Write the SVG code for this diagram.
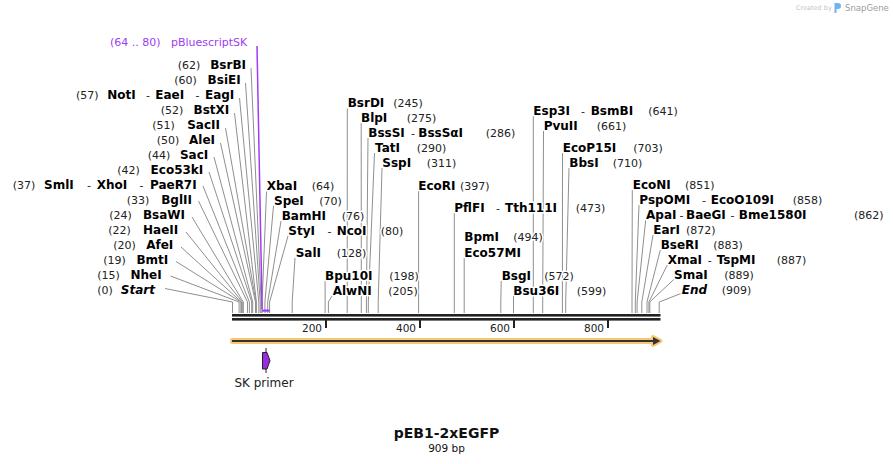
<svg xmlns="http://www.w3.org/2000/svg" width="893" height="464" viewBox="0 0 893 464">
<style>
text { font-family: "DejaVu Sans", Verdana, sans-serif; }
.lab { paint-order: stroke; stroke: #fff; stroke-width: 3px; stroke-linejoin: round; }
.b { font-weight: bold; font-size: 12px; fill: #000; }
.i { font-weight: bold; font-style: italic; font-size: 12px; fill: #000; }
.n { font-size: 11px; fill: #222; }
.ln { fill: none; stroke: #8f8f8f; stroke-width: 1; }
.ax { font-size: 10.5px; fill: #222; }
</style>
<rect width="893" height="464" fill="#fff"/>

<g id="logo">
  <text x="796" y="10" font-size="6.5" fill="#c4c4c4">Created by</text>
  <path d="M834.5,3 h3.5 a3,3 0 0 1 0,6 h-1.5 v4 h-2 z" fill="#6fb4ee"/>
  <text x="845" y="10.5" font-size="8.5" fill="#9c9c9c">SnapGene</text>
</g>

<g id="connectors">
  <!-- left labels -->
  <polyline class="ln" points="251,68 261.1,302 261.1,313"/>
  <polyline class="ln" points="245.5,83 260.2,302 260.2,313"/>
  <polyline class="ln" points="239.5,98 258.8,302 258.8,313"/>
  <polyline class="ln" points="234.5,113 256.4,302 256.4,313"/>
  <polyline class="ln" points="225.5,128 256,302 256,313"/>
  <polyline class="ln" points="220.5,143 255.5,302 255.5,313"/>
  <polyline class="ln" points="214,157 252.7,302 252.7,313"/>
  <polyline class="ln" points="209,172 251.7,302 251.7,313"/>
  <polyline class="ln" points="203,186 249.4,302 249.4,313"/>
  <polyline class="ln" points="198.5,201 247.5,302 247.5,313"/>
  <polyline class="ln" points="192,217 243.3,302 243.3,313"/>
  <polyline class="ln" points="186,232 242.3,302 242.3,313"/>
  <polyline class="ln" points="181,247 241.4,302 241.4,313"/>
  <polyline class="ln" points="176,261.5 240.9,302 240.9,313"/>
  <polyline class="ln" points="170.5,276 239.1,302 239.1,313"/>
  <polyline class="ln" points="165,288.5 232.5,302 232.5,313"/>
  <!-- right labels -->
  <polyline class="ln" points="266.5,191.5 262.1,302 262.1,313"/>
  <polyline class="ln" points="273.5,206 264.9,302 264.9,313"/>
  <polyline class="ln" points="281,221 267.7,302 267.7,313"/>
  <polyline class="ln" points="288,236 269.6,302 269.6,313"/>
  <polyline class="ln" points="295,258 292.2,302 292.2,313"/>
  <polyline class="ln" points="325.1,281 325.1,313"/>
  <polyline class="ln" points="332,296 328.4,302 328.4,313"/>
  <polyline class="ln" points="347.3,108.5 347.2,313"/>
  <polyline class="ln" points="361.2,123 361.3,313"/>
  <polyline class="ln" points="368,138 366.4,302 366.4,313"/>
  <polyline class="ln" points="374.5,153 368.3,302 368.3,313"/>
  <polyline class="ln" points="382,168 378.2,302 378.2,313"/>
  <polyline class="ln" points="418.6,191 418.6,313"/>
  <polyline class="ln" points="454.3,213 454.3,313"/>
  <polyline class="ln" points="464.2,258 464.2,313"/>
  <polyline class="ln" points="501.2,281 500.8,302 500.8,313"/>
  <polyline class="ln" points="513.5,296 513.5,313"/>
  <polyline class="ln" points="533.3,116 533.3,313"/>
  <polyline class="ln" points="543.5,131 542.7,302 542.7,313"/>
  <polyline class="ln" points="562.5,153 562.4,313"/>
  <polyline class="ln" points="569,168 565.7,302 565.7,313"/>
  <polyline class="ln" points="632.3,190 632,302 632,313"/>
  <polyline class="ln" points="639,205 635.3,302 635.3,313"/>
  <polyline class="ln" points="645.7,220 637.1,302 637.1,313"/>
  <polyline class="ln" points="653,235 641.8,302 641.8,313"/>
  <polyline class="ln" points="660.3,250 647,302 647,313"/>
  <polyline class="ln" points="667.3,265 648.9,302 648.9,313"/>
  <polyline class="ln" points="673.7,279.5 649.8,302 649.8,313"/>
  <polyline class="ln" points="681,293.5 659.2,302 659.2,313"/>
  <!-- primer binding -->
  <line x1="257" y1="46" x2="262.1" y2="309" stroke="#a03cf5" stroke-width="1.5"/>
  <rect x="262.1" y="309.5" width="7.5" height="2.2" fill="#a03cf5"/>
</g>

<g id="map">
  <rect x="232" y="314" width="428.5" height="2.6" fill="#222"/>
  <rect x="232" y="318" width="428.5" height="2.6" fill="#222"/>
  <rect x="325" y="319" width="2" height="9" fill="#222"/>
  <rect x="419" y="319" width="2" height="9" fill="#222"/>
  <rect x="513" y="319" width="2" height="9" fill="#222"/>
  <rect x="607" y="319" width="2" height="9" fill="#222"/>
  <text class="ax" x="322" y="331.5" text-anchor="end">200</text>
  <text class="ax" x="416" y="331.5" text-anchor="end">400</text>
  <text class="ax" x="510" y="331.5" text-anchor="end">600</text>
  <text class="ax" x="604" y="331.5" text-anchor="end">800</text>
</g>

<g id="feature">
  <polygon points="232,340 653,340 653,337 660.5,341 653,345 653,342 232,342" fill="#333" stroke="#fbc774" stroke-width="4" stroke-linejoin="round"/>
  <polygon points="232,340 653,340 653,337 660.5,341 653,345 653,342 232,342" fill="#333"/>
</g>

<g id="sk-primer">
  <line x1="266" y1="348" x2="266" y2="373" stroke="#222" stroke-width="1"/>
  <polygon points="262.5,352.5 267,352.5 270,360.7 267,369 262.5,369" fill="#9b2be0" stroke="#222" stroke-width="1"/>
  <text x="264" y="386.5" font-size="12" fill="#222" text-anchor="middle">SK primer</text>
</g>

<g id="pBluescriptSK">
  <text class="lab" x="110" y="46" font-size="11" fill="#a03cf5">(64 .. 80)</text>
  <text class="lab" x="171" y="46" font-size="11" fill="#a03cf5">pBluescriptSK</text>
</g>

<g id="left-labels">
  <g id="BsrBI"><text class="lab n" x="177.7" y="69.4">(62)</text><text class="lab b" x="246" y="69.4" text-anchor="end">BsrBI</text></g>
  <g id="BsiEI"><text class="lab n" x="174.3" y="84.4">(60)</text><text class="lab b" x="240.7" y="84.4" text-anchor="end">BsiEI</text></g>
  <g id="NotI"><text class="lab n" x="76" y="99.4">(57)</text><text class="lab b" x="107.3" y="99.4">NotI</text><text class="lab n" x="146" y="99.4">-</text><text class="lab b" x="155.3" y="99.4">EaeI</text><text class="lab n" x="195.5" y="99.4">-</text><text class="lab b" x="234.3" y="99.4" text-anchor="end">EagI</text></g>
  <g id="BstXI"><text class="lab n" x="160.7" y="114.4">(52)</text><text class="lab b" x="229.3" y="114.4" text-anchor="end">BstXI</text></g>
  <g id="SacII"><text class="lab n" x="152.3" y="129.4">(51)</text><text class="lab b" x="220" y="129.4" text-anchor="end">SacII</text></g>
  <g id="AleI"><text class="lab n" x="156.7" y="144.4">(50)</text><text class="lab b" x="215" y="144.4" text-anchor="end">AleI</text></g>
  <g id="SacI"><text class="lab n" x="147.7" y="159.4">(44)</text><text class="lab b" x="208.3" y="159.4" text-anchor="end">SacI</text></g>
  <g id="Eco53kI"><text class="lab n" x="117.3" y="174.4">(42)</text><text class="lab b" x="203.3" y="174.4" text-anchor="end">Eco53kI</text></g>
  <g id="SmlI"><text class="lab n" x="12.7" y="189.4">(37)</text><text class="lab b" x="44" y="189.4">SmlI</text><text class="lab n" x="87" y="189.4">-</text><text class="lab b" x="96.7" y="189.4">XhoI</text><text class="lab n" x="139.5" y="189.4">-</text><text class="lab b" x="196.7" y="189.4" text-anchor="end">PaeR7I</text></g>
  <g id="BglII"><text class="lab n" x="126.7" y="204.4">(33)</text><text class="lab b" x="192" y="204.4" text-anchor="end">BglII</text></g>
  <g id="BsaWI"><text class="lab n" x="109.3" y="219.4">(24)</text><text class="lab b" x="185" y="219.4" text-anchor="end">BsaWI</text></g>
  <g id="HaeII"><text class="lab n" x="108.3" y="234.4">(22)</text><text class="lab b" x="178.3" y="234.4" text-anchor="end">HaeII</text></g>
  <g id="AfeI"><text class="lab n" x="113.3" y="249.4">(20)</text><text class="lab b" x="173.3" y="249.4" text-anchor="end">AfeI</text></g>
  <g id="BmtI"><text class="lab n" x="103.3" y="264.4">(19)</text><text class="lab b" x="168.3" y="264.4" text-anchor="end">BmtI</text></g>
  <g id="NheI"><text class="lab n" x="97.3" y="279.4">(15)</text><text class="lab b" x="161.7" y="279.4" text-anchor="end">NheI</text></g>
  <g id="Start"><text class="lab n" x="97.3" y="294.4">(0)</text><text class="lab i" x="155" y="294.4" text-anchor="end">Start</text></g>
</g>

<g id="right-labels">
  <g id="XbaI"><text class="lab b" x="266.7" y="190">XbaI</text><text class="lab n" x="311.7" y="190">(64)</text></g>
  <g id="SpeI"><text class="lab b" x="274" y="204.5">SpeI</text><text class="lab n" x="319.3" y="204.5">(70)</text></g>
  <g id="BamHI"><text class="lab b" x="281.7" y="219.5">BamHI</text><text class="lab n" x="341.7" y="219.5">(76)</text></g>
  <g id="StyI"><text class="lab b" x="288.3" y="234.5">StyI</text><text class="lab n" x="327.5" y="234.5">-</text><text class="lab b" x="336.7" y="234.5">NcoI</text><text class="lab n" x="380.7" y="234.5">(80)</text></g>
  <g id="SalI"><text class="lab b" x="295.7" y="257">SalI</text><text class="lab n" x="336.7" y="257">(128)</text></g>
  <g id="Bpu10I"><text class="lab b" x="325" y="279.5">Bpu10I</text><text class="lab n" x="389.3" y="279.5">(198)</text></g>
  <g id="AlwNI"><text class="lab b" x="332.7" y="294.5">AlwNI</text><text class="lab n" x="388.3" y="294.5">(205)</text></g>
  <g id="BsrDI"><text class="lab b" x="347.7" y="107">BsrDI</text><text class="lab n" x="393.3" y="107">(245)</text></g>
  <g id="BlpI"><text class="lab b" x="361" y="122">BlpI</text><text class="lab n" x="406.7" y="122">(275)</text></g>
  <g id="BssSI"><text class="lab b" x="368.3" y="137">BssSI</text><text class="lab n" x="411" y="137">-</text><text class="lab b" x="418.3" y="137">BssSαI</text><text class="lab n" x="485.7" y="137">(286)</text></g>
  <g id="TatI"><text class="lab b" x="375" y="152">TatI</text><text class="lab n" x="416.7" y="152">(290)</text></g>
  <g id="SspI"><text class="lab b" x="382.3" y="167">SspI</text><text class="lab n" x="426.7" y="167">(311)</text></g>
  <g id="EcoRI"><text class="lab b" x="418.3" y="190">EcoRI</text><text class="lab n" x="460" y="190">(397)</text></g>
  <g id="PflFI"><text class="lab b" x="454.3" y="211.5">PflFI</text><text class="lab n" x="496" y="211.5">-</text><text class="lab b" x="505" y="211.5">Tth111I</text><text class="lab n" x="575.7" y="211.5">(473)</text></g>
  <g id="BpmI"><text class="lab b" x="464.3" y="241">BpmI</text><text class="lab n" x="513.3" y="241">(494)</text><text class="lab b" x="464.3" y="257">Eco57MI</text></g>
  <g id="BsgI"><text class="lab b" x="501.7" y="279.5">BsgI</text><text class="lab n" x="544.3" y="279.5">(572)</text></g>
  <g id="Bsu36I"><text class="lab b" x="513.3" y="294.5">Bsu36I</text><text class="lab n" x="576.7" y="294.5">(599)</text></g>
  <g id="Esp3I"><text class="lab b" x="533.3" y="114.5">Esp3I</text><text class="lab n" x="581" y="114.5">-</text><text class="lab b" x="590.7" y="114.5">BsmBI</text><text class="lab n" x="648.3" y="114.5">(641)</text></g>
  <g id="PvuII"><text class="lab b" x="543.7" y="129.5">PvuII</text><text class="lab n" x="596.7" y="129.5">(661)</text></g>
  <g id="EcoP15I"><text class="lab b" x="562.7" y="152">EcoP15I</text><text class="lab n" x="633.3" y="152">(703)</text></g>
  <g id="BbsI"><text class="lab b" x="569.3" y="167">BbsI</text><text class="lab n" x="612.7" y="167">(710)</text></g>
  <g id="EcoNI"><text class="lab b" x="632.7" y="189">EcoNI</text><text class="lab n" x="685" y="189">(851)</text></g>
  <g id="PspOMI"><text class="lab b" x="639.3" y="204">PspOMI</text><text class="lab n" x="702" y="204">-</text><text class="lab b" x="710.7" y="204">EcoO109I</text><text class="lab n" x="792.7" y="204">(858)</text></g>
  <g id="ApaI"><text class="lab b" x="646" y="219">ApaI</text><text class="lab n" x="679.5" y="219">-</text><text class="lab b" x="686" y="219">BaeGI</text><text class="lab n" x="730.5" y="219">-</text><text class="lab b" x="738.8" y="219">Bme1580I</text><text class="lab n" x="854" y="219">(862)</text></g>
  <g id="EarI"><text class="lab b" x="653.3" y="234">EarI</text><text class="lab n" x="686" y="234">(872)</text></g>
  <g id="BseRI"><text class="lab b" x="660.7" y="249">BseRI</text><text class="lab n" x="713.3" y="249">(883)</text></g>
  <g id="XmaI"><text class="lab b" x="667.7" y="264">XmaI</text><text class="lab n" x="707.8" y="264">-</text><text class="lab b" x="716.7" y="264">TspMI</text><text class="lab n" x="776.7" y="264">(887)</text></g>
  <g id="SmaI"><text class="lab b" x="674" y="279">SmaI</text><text class="lab n" x="724.3" y="279">(889)</text></g>
  <g id="End"><text class="lab i" x="681.7" y="293.5">End</text><text class="lab n" x="721.7" y="293.5">(909)</text></g>
</g>

<g id="title">
  <text x="446.5" y="438" font-size="14" font-weight="bold" fill="#111" text-anchor="middle">pEB1-2xEGFP</text>
  <text x="446.5" y="451.5" font-size="10.5" fill="#111" text-anchor="middle">909 bp</text>
</g>
</svg>
